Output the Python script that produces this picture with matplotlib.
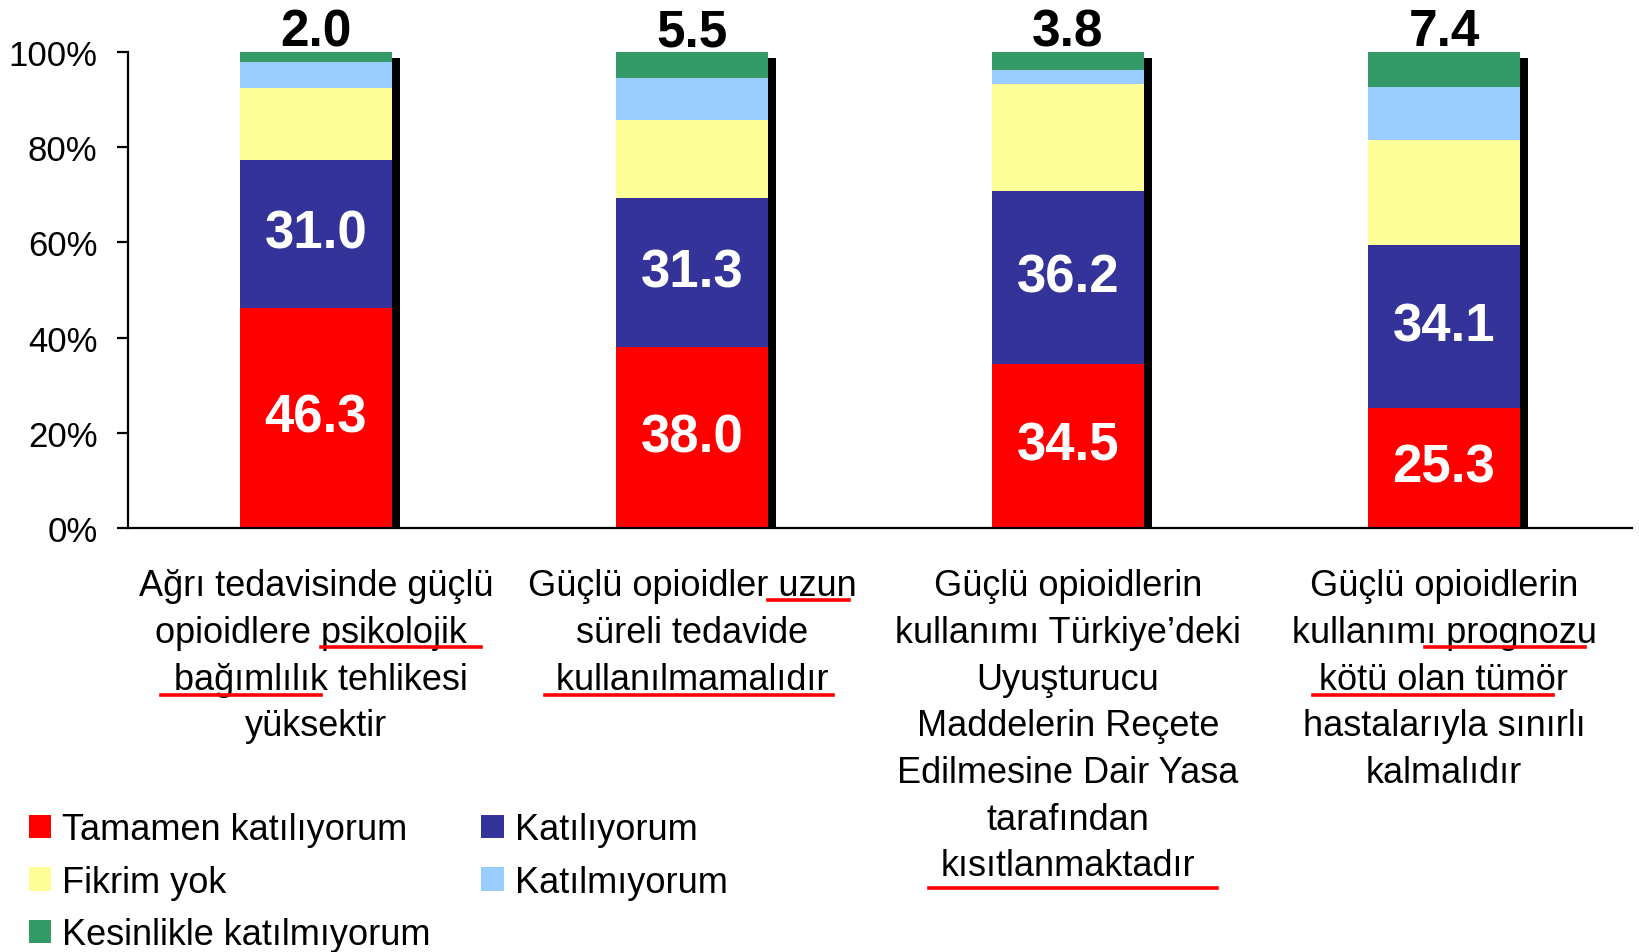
import matplotlib.pyplot as plt
from matplotlib.lines import Line2D

plt.rcParams['font.family'] = ['Liberation Sans', 'DejaVu Sans']

categories = [
    'Ağrı tedavisinde güçlü\nopioidlere psikolojik \n bağımlılık tehlikesi\nyüksektir',
    'Güçlü opioidler uzun\nsüreli tedavide\n kullanılmamalıdır ',
    'Güçlü opioidlerin\nkullanımı Türkiye’deki\nUyuşturucu\nMaddelerin Reçete\nEdilmesine Dair Yasa\ntarafından\nkısıtlanmaktadır',
    'Güçlü opioidlerin\nkullanımı prognozu\nkötü olan tümör\nhastalarıyla sınırlı\nkalmalıdır',
]
series_names = ['Tamamen katılıyorum', 'Katılıyorum', 'Fikrim yok',
                'Katılmıyorum', 'Kesinlikle katılmıyorum']
tamamen = [46.3, 38.0, 34.5, 25.3]
katiliyorum = [31.0, 31.3, 36.2, 34.1]
fikrim_yok = [15.2, 16.4, 22.5, 22.1]
katilmiyorum = [5.5, 8.8, 3.0, 11.1]
kesinlikle = [2.0, 5.5, 3.8, 7.4]

colors = ['#FF0000', '#333399', '#FFFF99', '#99CCFF', '#339966']
series = [tamamen, katiliyorum, fikrim_yok, katilmiyorum, kesinlikle]

W, H = 1640, 953
fig = plt.figure(figsize=(W / 100, H / 100), dpi=100)
ax = fig.add_axes([128 / W, 1 - 529 / H, (1632 - 128) / W, 476 / H])

x = list(range(len(categories)))
width = 0.404

# shadow behind each bar
totals = [sum(s[i] for s in series) for i in x]
ax.bar([i + 0.021 for i in x], [t - 1.3 for t in totals], width=width,
       color='black', zorder=1)

bottoms = [0.0] * len(x)
handles = []
for name, vals, c in zip(series_names, series, colors):
    b = ax.bar(x, vals, width=width, bottom=bottoms, color=c, label=name, zorder=2)
    handles.append(b)
    bottoms = [bo + v for bo, v in zip(bottoms, vals)]

# value labels: red and blue inside, green on top
for i in x:
    ax.text(i, tamamen[i] / 2, f'{tamamen[i]:.1f}', ha='center', va='center',
            color='white', fontsize=38, fontweight='bold', zorder=3)
    ax.text(i, tamamen[i] + katiliyorum[i] / 2, f'{katiliyorum[i]:.1f}',
            ha='center', va='center', color='white', fontsize=38,
            fontweight='bold', zorder=3)
    ax.annotate(f'{kesinlikle[i]:.1f}', (i, totals[i]), xytext=(0, 5),
                textcoords='offset points', ha='center', va='baseline',
                fontsize=37, fontweight='bold', annotation_clip=False)

ax.set_xlim(-0.5, 3.5)
ax.set_ylim(0, 100)
ax.set_yticks([0, 20, 40, 60, 80, 100])
ax.set_yticklabels(['0%', '20%', '40%', '60%', '80%', '100%'], fontsize=25)
ax.set_xticks([])
for s in ['top', 'right']:
    ax.spines[s].set_visible(False)
for s in ['left', 'bottom']:
    ax.spines[s].set_linewidth(1.6)
ax.tick_params(axis='y', length=8, width=1.6, pad=14)

# category labels below the axis
for i, lab in zip(x, categories):
    ax.text(i, -0.085, lab, transform=ax.get_xaxis_transform(), ha='center',
            va='top', fontsize=26, linespacing=1.43)

# red underlines (figure pixel positions)
underlines = [
    (321, 481, 648), (161, 321, 696),
    (768, 849, 601), (545, 833, 696),
    (929, 1217, 889),
    (1425, 1585, 648), (1313, 1553, 696),
]
for x0, x1, y in underlines:
    fig.add_artist(Line2D([x0 / W, x1 / W], [1 - y / H, 1 - y / H],
                          color='#FF0000', lw=2.6, transform=fig.transFigure))

order = [0, 2, 4, 1, 3]
fig.legend([handles[k] for k in order], [series_names[k] for k in order],
           loc='upper left', bbox_to_anchor=(29 / W, 1 - 813 / H), ncol=2,
           frameon=False, fontsize=26, handlelength=0.62, handleheight=0.62,
           handletextpad=0.3, columnspacing=1.4, labelspacing=0.49,
           borderpad=0, borderaxespad=0)

fig.savefig('out.png', dpi=100)
